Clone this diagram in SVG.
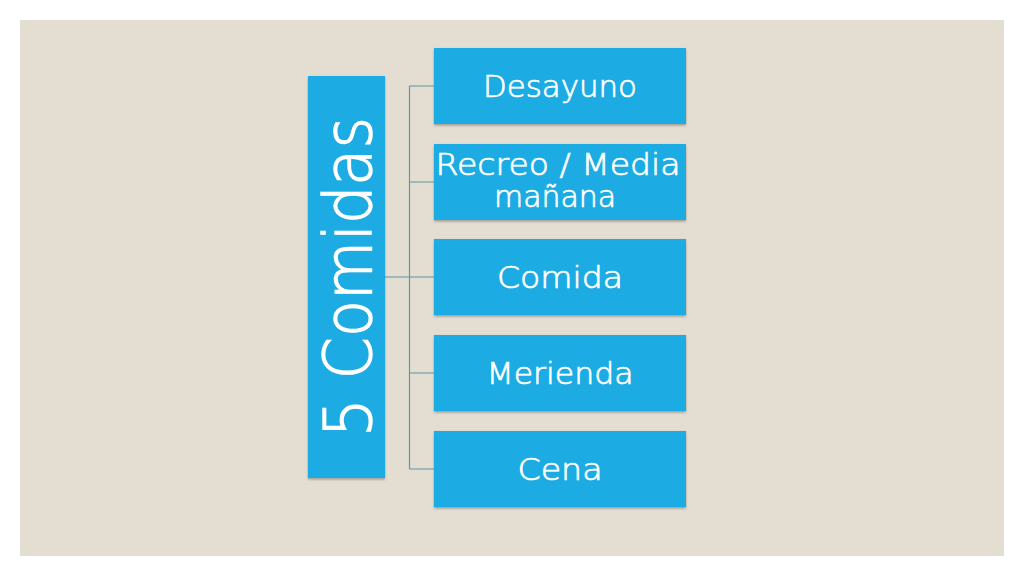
<svg xmlns="http://www.w3.org/2000/svg" width="1024" height="576" viewBox="0 0 1024 576">
  <defs>
    <filter id="sh" x="-10%" y="-10%" width="120%" height="130%">
      <feDropShadow dx="0" dy="1.5" stdDeviation="1" flood-color="#000" flood-opacity="0.3"/>
    </filter>
    <style>
      .box { fill: #1cabe3; filter: url(#sh); }
      .lbl { fill: #ffffff; stroke: #ffffff; stroke-width: 0.7px; font-family: "DejaVu Sans", "Liberation Sans", sans-serif; font-size: 30px; font-weight: 300; text-anchor: middle; }
      .con { stroke: #5f98a6; stroke-width: 1.2; fill: none; }
    </style>
  </defs>
  <rect x="0" y="0" width="1024" height="576" fill="#ffffff"/>
  <rect x="20" y="20" width="984" height="536" fill="#e3ddd2"/>

  <g id="connectors">
    <path class="con" d="M384,277 H409.5 M409.5,86 V469 M409.5,86 H434 M409.5,182 H434 M409.5,277 H434 M409.5,373 H434 M409.5,469 H434"/>
  </g>

  <g id="root">
    <rect class="box" x="308" y="76" width="77" height="402"/>
    <text class="lbl" transform="translate(371,277) rotate(-90)" x="0" y="0" textLength="320" lengthAdjust="spacingAndGlyphs" style="font-size:66px;stroke-width:1.4px">5 Comidas</text>
  </g>

  <g id="desayuno">
    <rect class="box" x="434" y="48" width="252" height="76"/>
    <text class="lbl" x="560" y="97" textLength="154" lengthAdjust="spacingAndGlyphs">Desayuno</text>
  </g>

  <g id="recreo">
    <rect class="box" x="434" y="144" width="252" height="76"/>
    <text class="lbl" x="558" y="175" textLength="245" lengthAdjust="spacingAndGlyphs">Recreo / Media</text>
    <text class="lbl" x="555" y="207" textLength="122" lengthAdjust="spacingAndGlyphs">mañana</text>
  </g>

  <g id="comida">
    <rect class="box" x="434" y="239" width="252" height="76"/>
    <text class="lbl" x="560" y="288" textLength="126" lengthAdjust="spacingAndGlyphs">Comida</text>
  </g>

  <g id="merienda">
    <rect class="box" x="434" y="335" width="252" height="76"/>
    <text class="lbl" x="560" y="384" textLength="147" lengthAdjust="spacingAndGlyphs">Merienda</text>
  </g>

  <g id="cena">
    <rect class="box" x="434" y="431" width="252" height="76"/>
    <text class="lbl" x="560" y="480" textLength="85" lengthAdjust="spacingAndGlyphs">Cena</text>
  </g>
</svg>
